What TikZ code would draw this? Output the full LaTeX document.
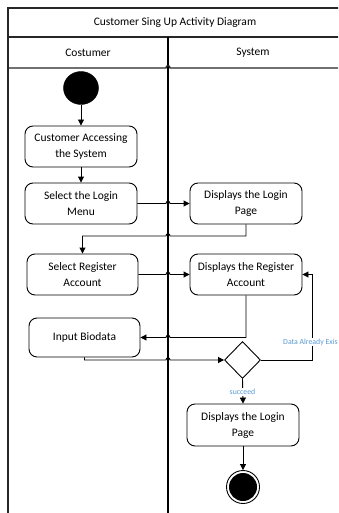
\documentclass[tikz,border=0pt]{standalone}
\usepackage{fontspec}
\setmainfont{Carlito}
\usetikzlibrary{arrows.meta,shapes.geometric}
\definecolor{lblue}{HTML}{5B9BD5}
\tikzset{
  act/.style={draw=black, line width=0.9pt, rounded corners=8pt, minimum width=112pt, minimum height=41pt, align=center, inner sep=1pt, font=\fontsize{11.5}{16}\selectfont},
  frame/.style={draw=black!85, line width=1.4pt},
  lane/.style={draw=black, line width=1.1pt},
  conn/.style={draw=black, line width=0.9pt},
  arr/.style={conn, -{Triangle[length=6pt,width=6pt]}},
  glabel/.style={font=\fontsize{7.8}{9}\selectfont, text=lblue, fill=white, inner sep=1pt},
  hdr/.style={font=\fontsize{11.5}{14}\selectfont}
}
\begin{document}
\begin{tikzpicture}[x=1pt,y=-1pt]
\clip (0,0) rectangle (338,513);
\fill[white] (0,0) rectangle (338,513);
% frame
\draw[frame] (8,540) -- (8,8) -- (360,8);
\draw[frame] (8,37) -- (360,37);
\draw[lane] (168,37) -- (168,540);
\draw[frame] (8,68) -- (166,68) .. controls (166,65) and (170,65) .. (170,68) -- (360,68);
\node[hdr] (title) at (175,23) {Customer Sing Up Activity Diagram};
\node[hdr] (lc) at (88,53) {Costumer};
\node[hdr] (ls) at (253,53) {System};
% nodes
\node[draw, fill=black, ellipse, minimum width=35pt, minimum height=33pt, inner sep=0pt] (start) at (81,88) {};
\node[act] (b1) at (81,146.5) {Customer Accessing\\the System};
\node[act] (b2) at (81,203.5) {Select the Login\\Menu};
\node[act] (b3) at (246,203.5) {Displays the Login\\Page};
\node[act, minimum width=111pt] (b4) at (82.5,274.5) {Select Register\\Account};
\node[act] (b5) at (246,274.5) {Displays the Register\\Account};
\node[act, minimum width=111pt, minimum height=39pt] (b6) at (84.5,337.5) {Input Biodata};
\node[draw, line width=0.9pt, diamond, minimum width=36pt, minimum height=37pt, inner sep=0pt] (d) at (242.5,360) {};
\node[act, minimum height=42pt] (b7) at (243,425) {Displays the Login\\Page};
\node[draw, circle, line width=0.9pt, minimum size=33pt, inner sep=0pt] (fin) at (243,487) {};
\fill[black] (fin.center) circle (14pt);
% connectors
\draw[arr] (start) -- (b1);
\draw[arr] (b1) -- (b2);
\draw[arr] (b2.east) -- (166,203.5) .. controls (166,200.5) and (170,200.5) .. (170,203.5) -- (b3.west);
\coordinate (c1) at (246,236);
\draw[arr] (b3.south) -- (c1) -- (170,236) .. controls (170,233) and (166,233) .. (166,236) -- (82.5,236) -- (b4.north);
\draw[arr] (b4.east) -- (166,274.5) .. controls (166,271.5) and (170,271.5) .. (170,274.5) -- (b5.west);
\coordinate (c2) at (246,337.5);
\draw[arr] (b5.south) -- (c2) -- (170,337.5) .. controls (170,334.5) and (166,334.5) .. (166,337.5) -- (b6.east);
\coordinate (c3) at (84.5,360);
\draw[arr] (b6.south) -- (c3) -- (166,360) .. controls (166,357) and (170,357) .. (170,360) -- (d.west);
\coordinate (c4) at (312,360);
\coordinate (c5) at (312,274.5);
\draw[arr] (d.east) -- (c4) -- (c5) -- (b5.east);
\node[glabel, anchor=west] (l1) at (282,342) {Data Already Exis};
\draw[arr] (d.south) -- (b7.north);
\node[glabel] (l2) at (242.5,392) {succeed};
\draw[arr] (b7.south) -- (fin.north);
\end{tikzpicture}
\end{document}
